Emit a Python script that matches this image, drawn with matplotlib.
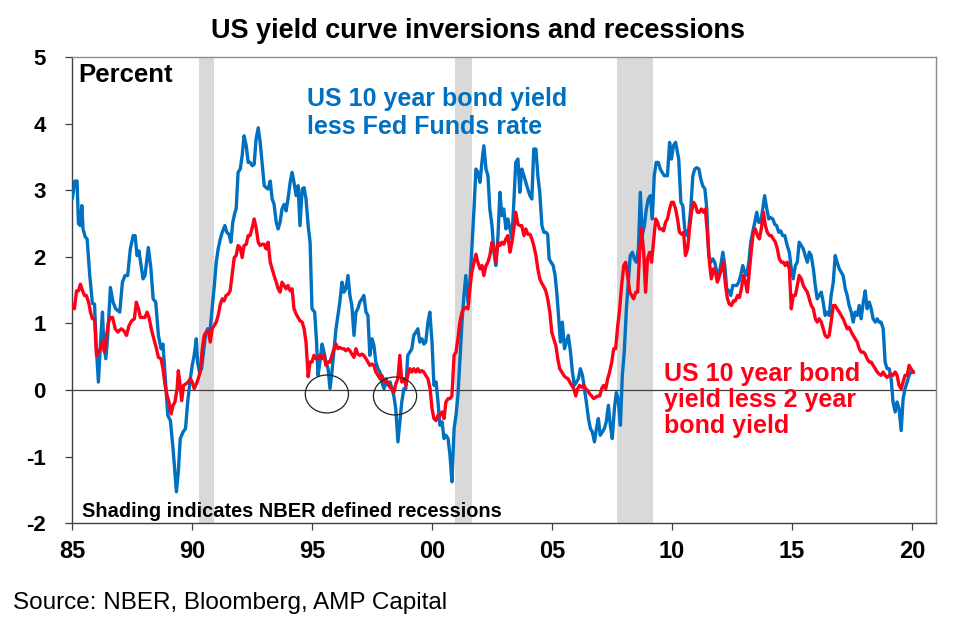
import matplotlib
matplotlib.use('Agg')
import matplotlib.pyplot as plt
from matplotlib.patches import Ellipse
import numpy as np

plt.rcParams['font.family'] = ['Liberation Sans', 'DejaVu Sans']

# US 10 year bond yield less Fed Funds rate (decimal year, percent)
blue_years = [
    1985.02, 1985.12, 1985.21, 1985.27, 1985.35, 1985.41, 1985.46, 1985.55, 1985.63, 1985.74,
    1985.85, 1985.94, 1986.00, 1986.10, 1986.19, 1986.27, 1986.32, 1986.41, 1986.49, 1986.60,
    1986.71, 1986.82, 1986.99, 1987.10, 1987.21, 1987.32, 1987.43, 1987.55, 1987.63, 1987.71,
    1987.79, 1987.88, 1987.96, 1988.04, 1988.18, 1988.29, 1988.38, 1988.49, 1988.60, 1988.71,
    1988.79, 1988.88, 1988.99, 1989.10, 1989.21, 1989.35, 1989.43, 1989.51, 1989.63, 1989.73,
    1989.82, 1989.93, 1990.01, 1990.09, 1990.18, 1990.23, 1990.31, 1990.40, 1990.48, 1990.56,
    1990.65, 1990.76, 1990.84, 1990.93, 1991.01, 1991.09, 1991.18, 1991.26, 1991.37, 1991.45,
    1991.54, 1991.62, 1991.70, 1991.79, 1991.84, 1991.92, 1992.01, 1992.09, 1992.17, 1992.26,
    1992.34, 1992.42, 1992.51, 1992.59, 1992.67, 1992.76, 1992.84, 1992.92, 1993.01, 1993.09,
    1993.17, 1993.26, 1993.34, 1993.42, 1993.51, 1993.59, 1993.67, 1993.75, 1993.84, 1993.92,
    1994.00, 1994.09, 1994.17, 1994.25, 1994.34, 1994.42, 1994.50, 1994.59, 1994.67, 1994.75,
    1994.84, 1994.92, 1995.00, 1995.11, 1995.19, 1995.25, 1995.33, 1995.42, 1995.50, 1995.58,
    1995.67, 1995.75, 1995.83, 1995.92, 1996.00, 1996.08, 1996.16, 1996.25, 1996.33, 1996.41,
    1996.50, 1996.58, 1996.66, 1996.75, 1996.83, 1996.91, 1996.99, 1997.08, 1997.16, 1997.25,
    1997.33, 1997.41, 1997.50, 1997.58, 1997.66, 1997.75, 1997.83, 1997.91, 1998.00, 1998.08,
    1998.16, 1998.25, 1998.33, 1998.41, 1998.49, 1998.58, 1998.66, 1998.74, 1998.83, 1998.91,
    1998.99, 1999.08, 1999.16, 1999.24, 1999.33, 1999.41, 1999.49, 1999.58, 1999.66, 1999.74,
    1999.83, 1999.91, 2000.00, 2000.08, 2000.17, 2000.25, 2000.33, 2000.42, 2000.50, 2000.58,
    2000.67, 2000.75, 2000.83, 2000.92, 2001.00, 2001.08, 2001.16, 2001.25, 2001.33, 2001.41,
    2001.50, 2001.58, 2001.66, 2001.75, 2001.83, 2001.91, 2002.00, 2002.08, 2002.16, 2002.25,
    2002.33, 2002.41, 2002.50, 2002.58, 2002.66, 2002.75, 2002.83, 2002.91, 2002.99, 2003.08,
    2003.16, 2003.25, 2003.33, 2003.41, 2003.49, 2003.58, 2003.66, 2003.74, 2003.83, 2003.91,
    2003.99, 2004.08, 2004.16, 2004.24, 2004.33, 2004.41, 2004.49, 2004.58, 2004.66, 2004.74,
    2004.82, 2004.88, 2004.96, 2005.05, 2005.13, 2005.21, 2005.29, 2005.35, 2005.43, 2005.52,
    2005.60, 2005.68, 2005.77, 2005.85, 2005.93, 2006.02, 2006.10, 2006.18, 2006.27, 2006.35,
    2006.43, 2006.52, 2006.60, 2006.68, 2006.77, 2006.85, 2006.93, 2007.01, 2007.10, 2007.18,
    2007.26, 2007.35, 2007.43, 2007.51, 2007.60, 2007.68, 2007.76, 2007.85, 2007.93, 2008.01,
    2008.10, 2008.18, 2008.26, 2008.35, 2008.43, 2008.51, 2008.60, 2008.68, 2008.76, 2008.85,
    2008.93, 2009.01, 2009.10, 2009.18, 2009.26, 2009.34, 2009.43, 2009.51, 2009.59, 2009.68,
    2009.81, 2009.90, 2009.98, 2010.06, 2010.15, 2010.23, 2010.28, 2010.37, 2010.45, 2010.53,
    2010.62, 2010.70, 2010.78, 2010.87, 2010.95, 2011.03, 2011.12, 2011.20, 2011.28, 2011.37,
    2011.45, 2011.53, 2011.62, 2011.70, 2011.78, 2011.87, 2011.95, 2012.03, 2012.12, 2012.20,
    2012.28, 2012.37, 2012.45, 2012.53, 2012.61, 2012.70, 2012.78, 2012.86, 2012.95, 2013.03,
    2013.11, 2013.20, 2013.28, 2013.36, 2013.45, 2013.53, 2013.61, 2013.70, 2013.78, 2013.86,
    2013.95, 2014.03, 2014.11, 2014.20, 2014.28, 2014.36, 2014.45, 2014.53, 2014.61, 2014.70,
    2014.80, 2014.89, 2014.97, 2015.05, 2015.14, 2015.22, 2015.30, 2015.39, 2015.47, 2015.55,
    2015.64, 2015.72, 2015.80, 2015.89, 2015.97, 2016.05, 2016.13, 2016.22, 2016.30, 2016.38,
    2016.47, 2016.55, 2016.63, 2016.72, 2016.80, 2016.88, 2016.97, 2017.05, 2017.13, 2017.22,
    2017.30, 2017.38, 2017.47, 2017.55, 2017.63, 2017.72, 2017.80, 2017.88, 2017.97, 2018.05,
    2018.13, 2018.22, 2018.30, 2018.38, 2018.47, 2018.55, 2018.63, 2018.71, 2018.80, 2018.88,
    2018.96, 2019.05, 2019.13, 2019.21, 2019.30, 2019.38, 2019.46, 2019.55, 2019.63, 2019.71,
    2019.80, 2019.88, 2019.96, 2020.05,
]
blue_values = [
    2.89, 3.14, 3.14, 2.50, 2.47, 2.77, 2.42, 2.30, 2.27, 1.72,
    1.30, 1.29, 0.72, 0.12, 0.72, 1.17, 0.72, 0.47, 0.82, 1.54,
    1.32, 1.22, 1.17, 1.62, 1.72, 1.72, 2.12, 2.32, 2.32, 2.02,
    2.09, 1.87, 1.67, 1.72, 2.14, 1.82, 1.37, 1.32, 0.82, 0.62,
    0.69, 0.22, -0.38, -0.46, -0.88, -1.53, -1.23, -0.73, -0.63, -0.58,
    -0.18, 0.17, 0.37, 0.52, 0.77, 0.42, 0.27, 0.32, 0.57, 0.82,
    0.92, 0.92, 1.22, 1.57, 1.92, 2.12, 2.27, 2.37, 2.47, 2.37,
    2.34, 2.22, 2.52, 2.67, 2.72, 3.27, 3.32, 3.52, 3.82, 3.67,
    3.42, 3.42, 3.37, 3.39, 3.77, 3.94, 3.72, 3.42, 3.07, 3.04,
    3.02, 3.14, 2.87, 2.79, 2.52, 2.42, 2.52, 2.72, 2.79, 2.69,
    2.87, 3.12, 3.27, 3.12, 2.92, 3.07, 2.47, 3.02, 3.04, 2.87,
    2.47, 2.22, 1.22, 1.17, 0.72, 0.22, 0.42, 0.69, 0.57, 0.42,
    0.32, 0.02, 0.27, 0.62, 0.92, 1.12, 1.32, 1.62, 1.47, 1.52,
    1.72, 1.42, 1.27, 0.82, 1.17, 1.22, 1.32, 1.37, 1.42, 1.17,
    1.12, 0.52, 0.77, 0.67, 0.42, 0.32, 0.27, 0.12, 0.02, 0.17,
    0.07, 0.12, 0.02, -0.09, -0.28, -0.78, -0.48, -0.18, 0.02, 0.02,
    0.52, 0.57, 0.62, 0.82, 0.87, 0.92, 0.72, 0.77, 0.69, 0.72,
    1.02, 1.17, 0.72, 0.07, 0.12, -0.18, -0.53, -0.48, -0.73, -0.68,
    -0.73, -0.98, -1.38, -0.58, -0.38, -0.09, 0.42, 1.02, 1.42, 1.72,
    1.32, 1.62, 2.12, 2.72, 3.32, 3.27, 3.12, 3.42, 3.67, 3.32,
    3.22, 2.72, 2.47, 2.07, 1.87, 2.32, 2.97, 2.62, 2.72, 2.42,
    2.57, 2.42, 2.27, 2.82, 3.42, 3.47, 2.97, 3.32, 3.22, 3.12,
    3.02, 2.92, 2.87, 3.62, 3.62, 3.22, 2.97, 2.47, 2.37, 2.37,
    2.34, 1.97, 1.92, 1.87, 1.72, 1.42, 1.02, 0.72, 1.02, 0.62,
    0.72, 0.82, 0.57, 0.27, 0.07, 0.12, 0.17, 0.32, 0.22, 0.02,
    -0.18, -0.43, -0.58, -0.63, -0.78, -0.58, -0.43, -0.68, -0.63, -0.58,
    -0.48, -0.23, -0.53, -0.73, -0.28, -0.04, -0.13, -0.53, 0.22, 0.57,
    1.22, 1.62, 2.02, 2.07, 1.97, 1.92, 2.12, 2.97, 2.32, 2.47,
    2.72, 2.87, 2.92, 2.57, 3.22, 3.42, 3.42, 3.32, 3.27, 3.22,
    3.22, 3.72, 3.47, 3.67, 3.72, 3.57, 3.47, 2.82, 2.77, 2.42,
    2.32, 2.42, 2.72, 3.22, 3.32, 3.34, 3.32, 3.17, 3.07, 3.02,
    2.72, 2.02, 1.92, 1.97, 1.92, 1.77, 1.72, 1.87, 2.07, 1.87,
    1.52, 1.49, 1.42, 1.57, 1.57, 1.57, 1.62, 1.72, 1.87, 1.77,
    1.72, 1.92, 2.22, 2.37, 2.52, 2.67, 2.52, 2.52, 2.72, 2.92,
    2.72, 2.57, 2.59, 2.57, 2.49, 2.47, 2.37, 2.39, 2.32, 2.32,
    2.17, 2.07, 1.82, 1.67, 1.87, 1.92, 2.22, 2.17, 2.12, 2.02,
    1.92, 2.07, 2.02, 1.82, 1.57, 1.37, 1.42, 1.47, 1.32, 1.12,
    1.17, 1.12, 1.42, 1.62, 2.02, 1.92, 1.82, 1.77, 1.72, 1.52,
    1.42, 1.27, 1.17, 1.02, 1.17, 1.12, 1.27, 1.07, 1.32, 1.49,
    1.22, 1.32, 1.22, 1.07, 1.02, 1.07, 1.02, 1.02, 0.92, 0.42,
    0.32, 0.32, 0.17, -0.18, -0.33, -0.18, -0.28, -0.61, -0.13, 0.02,
    0.12, 0.22, 0.27, 0.27,
]

# US 10 year bond yield less 2 year bond yield (decimal year, percent)
red_years = [
    1985.02, 1985.10, 1985.19, 1985.27, 1985.35, 1985.44, 1985.52, 1985.60, 1985.69, 1985.77,
    1985.85, 1985.94, 1986.02, 1986.10, 1986.19, 1986.27, 1986.35, 1986.44, 1986.52, 1986.60,
    1986.69, 1986.80, 1986.91, 1987.05, 1987.16, 1987.27, 1987.38, 1987.49, 1987.60, 1987.68,
    1987.77, 1987.85, 1987.96, 1988.04, 1988.13, 1988.21, 1988.32, 1988.43, 1988.52, 1988.60,
    1988.71, 1988.79, 1988.88, 1988.96, 1989.04, 1989.13, 1989.21, 1989.29, 1989.38, 1989.43,
    1989.49, 1989.57, 1989.65, 1989.74, 1989.84, 1989.93, 1990.01, 1990.09, 1990.18, 1990.26,
    1990.34, 1990.43, 1990.51, 1990.59, 1990.68, 1990.76, 1990.84, 1990.93, 1991.01, 1991.09,
    1991.18, 1991.26, 1991.34, 1991.42, 1991.51, 1991.59, 1991.67, 1991.76, 1991.84, 1991.92,
    1992.01, 1992.09, 1992.17, 1992.26, 1992.34, 1992.42, 1992.51, 1992.59, 1992.67, 1992.76,
    1992.84, 1992.92, 1993.01, 1993.09, 1993.17, 1993.26, 1993.34, 1993.42, 1993.51, 1993.59,
    1993.67, 1993.75, 1993.84, 1993.92, 1994.00, 1994.09, 1994.17, 1994.25, 1994.34, 1994.42,
    1994.50, 1994.59, 1994.67, 1994.75, 1994.84, 1994.92, 1995.00, 1995.08, 1995.17, 1995.25,
    1995.33, 1995.42, 1995.50, 1995.58, 1995.67, 1995.75, 1995.83, 1995.92, 1996.00, 1996.08,
    1996.16, 1996.25, 1996.33, 1996.41, 1996.50, 1996.58, 1996.66, 1996.75, 1996.83, 1996.91,
    1996.99, 1997.08, 1997.16, 1997.25, 1997.33, 1997.41, 1997.50, 1997.58, 1997.66, 1997.75,
    1997.83, 1997.91, 1998.00, 1998.08, 1998.16, 1998.25, 1998.33, 1998.41, 1998.49, 1998.58,
    1998.66, 1998.74, 1998.83, 1998.91, 1998.99, 1999.08, 1999.16, 1999.24, 1999.33, 1999.41,
    1999.49, 1999.58, 1999.66, 1999.74, 1999.83, 1999.92, 2000.00, 2000.08, 2000.17, 2000.25,
    2000.33, 2000.42, 2000.50, 2000.58, 2000.67, 2000.75, 2000.83, 2000.92, 2001.00, 2001.08,
    2001.16, 2001.25, 2001.33, 2001.41, 2001.50, 2001.58, 2001.66, 2001.75, 2001.83, 2001.91,
    2002.00, 2002.08, 2002.16, 2002.25, 2002.33, 2002.41, 2002.50, 2002.58, 2002.66, 2002.75,
    2002.83, 2002.91, 2002.99, 2003.08, 2003.16, 2003.25, 2003.33, 2003.41, 2003.49, 2003.58,
    2003.66, 2003.74, 2003.83, 2003.91, 2003.99, 2004.08, 2004.16, 2004.24, 2004.33, 2004.41,
    2004.49, 2004.58, 2004.66, 2004.74, 2004.82, 2004.91, 2004.99, 2005.07, 2005.16, 2005.24,
    2005.32, 2005.41, 2005.49, 2005.57, 2005.66, 2005.74, 2005.82, 2005.91, 2005.99, 2006.07,
    2006.15, 2006.24, 2006.32, 2006.40, 2006.49, 2006.57, 2006.65, 2006.74, 2006.82, 2006.90,
    2006.99, 2007.07, 2007.15, 2007.24, 2007.32, 2007.40, 2007.49, 2007.57, 2007.65, 2007.74,
    2007.82, 2007.90, 2007.99, 2008.07, 2008.15, 2008.24, 2008.32, 2008.40, 2008.49, 2008.57,
    2008.65, 2008.73, 2008.82, 2008.90, 2008.98, 2009.07, 2009.15, 2009.23, 2009.32, 2009.40,
    2009.48, 2009.57, 2009.65, 2009.73, 2009.81, 2009.90, 2009.98, 2010.06, 2010.15, 2010.23,
    2010.31, 2010.40, 2010.48, 2010.56, 2010.65, 2010.73, 2010.81, 2010.90, 2010.98, 2011.06,
    2011.14, 2011.23, 2011.31, 2011.39, 2011.48, 2011.56, 2011.64, 2011.73, 2011.81, 2011.89,
    2011.98, 2012.06, 2012.14, 2012.23, 2012.31, 2012.39, 2012.48, 2012.56, 2012.64, 2012.73,
    2012.81, 2012.89, 2012.98, 2013.06, 2013.14, 2013.23, 2013.31, 2013.39, 2013.47, 2013.56,
    2013.64, 2013.72, 2013.81, 2013.89, 2013.97, 2014.06, 2014.14, 2014.22, 2014.31, 2014.39,
    2014.47, 2014.56, 2014.64, 2014.72, 2014.80, 2014.89, 2014.97, 2015.05, 2015.14, 2015.22,
    2015.30, 2015.39, 2015.47, 2015.55, 2015.64, 2015.72, 2015.80, 2015.89, 2015.97, 2016.05,
    2016.13, 2016.22, 2016.30, 2016.38, 2016.47, 2016.55, 2016.63, 2016.72, 2016.80, 2016.88,
    2016.97, 2017.05, 2017.13, 2017.22, 2017.30, 2017.38, 2017.47, 2017.55, 2017.63, 2017.72,
    2017.80, 2017.88, 2017.97, 2018.05, 2018.13, 2018.22, 2018.30, 2018.38, 2018.47, 2018.55,
    2018.63, 2018.71, 2018.80, 2018.88, 2018.96, 2019.05, 2019.13, 2019.21, 2019.30, 2019.38,
    2019.46, 2019.55, 2019.63, 2019.71, 2019.80, 2019.88, 2019.96, 2020.05,
]
red_values = [
    1.27, 1.22, 1.49, 1.49, 1.59, 1.49, 1.42, 1.42, 1.32, 1.17,
    1.07, 1.07, 0.52, 0.57, 0.62, 0.72, 0.57, 0.82, 1.02, 1.09,
    1.09, 0.92, 0.87, 0.92, 0.89, 0.82, 0.97, 1.04, 1.07, 1.32,
    1.22, 1.09, 1.09, 1.09, 1.17, 1.09, 0.89, 0.74, 0.62, 0.49,
    0.47, 0.32, 0.07, -0.08, -0.18, -0.36, -0.23, -0.18, 0.02, 0.29,
    0.12, -0.16, 0.07, 0.09, 0.12, 0.17, 0.12, 0.02, 0.09, 0.17,
    0.27, 0.62, 0.82, 0.87, 0.89, 0.72, 0.92, 0.97, 1.02, 1.12,
    1.29, 1.37, 1.34, 1.42, 1.44, 1.49, 1.72, 1.99, 2.02, 2.17,
    2.14, 1.99, 2.17, 2.19, 2.32, 2.32, 2.44, 2.57, 2.44, 2.22,
    2.17, 2.19, 2.19, 2.12, 2.22, 1.92, 1.82, 1.72, 1.62, 1.52,
    1.47, 1.62, 1.57, 1.52, 1.57, 1.49, 1.52, 1.22, 1.14, 1.09,
    1.04, 1.02, 0.92, 0.72, 0.20, 0.42, 0.42, 0.52, 0.47, 0.47,
    0.52, 0.47, 0.52, 0.37, 0.42, 0.42, 0.52, 0.62, 0.69, 0.62,
    0.64, 0.62, 0.62, 0.59, 0.62, 0.59, 0.54, 0.49, 0.62, 0.54,
    0.52, 0.54, 0.52, 0.47, 0.42, 0.37, 0.39, 0.37, 0.27, 0.22,
    0.17, 0.22, 0.12, 0.12, 0.12, 0.04, 0.02, -0.04, 0.09, 0.17,
    0.52, 0.12, 0.17, 0.07, 0.22, 0.32, 0.27, 0.32, 0.27, 0.32,
    0.27, 0.29, 0.27, 0.22, 0.17, 0.02, -0.28, -0.43, -0.46, -0.38,
    -0.38, -0.33, -0.43, -0.18, -0.13, -0.13, -0.09, 0.52, 0.57, 0.77,
    1.02, 1.17, 1.22, 1.24, 1.22, 1.52, 1.77, 1.92, 2.04, 1.92,
    1.82, 1.87, 1.72, 1.87, 1.92, 2.02, 2.22, 2.12, 1.92, 2.22,
    2.17, 2.22, 2.19, 2.27, 2.32, 2.07, 2.22, 2.42, 2.67, 2.49,
    2.47, 2.47, 2.32, 2.42, 2.34, 2.34, 2.27, 2.17, 2.02, 1.82,
    1.67, 1.60, 1.55, 1.49, 1.37, 1.17, 0.87, 0.77, 0.67, 0.47,
    0.32, 0.27, 0.22, 0.19, 0.17, 0.12, 0.07, 0.02, -0.09, 0.02,
    0.07, 0.04, 0.07, 0.02, -0.01, -0.06, -0.09, -0.13, -0.11, -0.09,
    -0.09, 0.02, 0.07, 0.02, 0.17, 0.27, 0.42, 0.62, 0.62, 0.97,
    1.22, 1.57, 1.87, 1.92, 1.72, 1.47, 1.42, 1.37, 1.47, 1.47,
    2.07, 2.42, 2.07, 1.47, 1.97, 2.07, 1.92, 2.22, 2.57, 2.52,
    2.42, 2.42, 2.39, 2.52, 2.57, 2.72, 2.82, 2.82, 2.72, 2.57,
    2.37, 2.34, 2.37, 2.02, 2.12, 2.42, 2.67, 2.82, 2.77, 2.67,
    2.67, 2.72, 2.67, 2.72, 2.32, 1.92, 1.67, 1.82, 1.77, 1.62,
    1.72, 1.82, 1.92, 1.57, 1.37, 1.29, 1.27, 1.34, 1.34, 1.42,
    1.39, 1.52, 1.72, 1.62, 1.47, 1.82, 2.12, 2.37, 2.42, 2.32,
    2.27, 2.42, 2.67, 2.47, 2.37, 2.32, 2.32, 2.27, 2.22, 2.12,
    1.97, 1.92, 1.92, 1.87, 1.92, 1.82, 1.22, 1.42, 1.42, 1.57,
    1.72, 1.67, 1.57, 1.52, 1.47, 1.37, 1.27, 1.22, 1.07, 1.02,
    1.07, 1.02, 0.92, 0.82, 0.79, 0.82, 1.02, 1.27, 1.27, 1.22,
    1.17, 1.12, 1.07, 0.99, 0.92, 0.94, 0.87, 0.82, 0.77, 0.72,
    0.62, 0.57, 0.57, 0.54, 0.47, 0.42, 0.42, 0.37, 0.32, 0.27,
    0.24, 0.22, 0.27, 0.22, 0.19, 0.22, 0.24, 0.22, 0.27, 0.22,
    0.07, 0.02, 0.12, 0.22, 0.22, 0.37, 0.32, 0.27,
]

# NBER recessions as drawn on the chart (start, end)
recession_starts = [1990.30, 2000.95, 2007.70]
recession_ends = [1990.90, 2001.65, 2009.20]

x_ticks = [1985, 1990, 1995, 2000, 2005, 2010, 2015, 2020]
x_labels = ['85', '90', '95', '00', '05', '10', '15', '20']
y_ticks = [-2, -1, 0, 1, 2, 3, 4, 5]

# inversions circled on the chart (centre year, centre value)
circle_x = [1995.62, 1998.46]
circle_y = [-0.06, -0.09]

blue = '#0070C0'
red = '#FF0019'

fig = plt.figure(figsize=(9.6, 6.22), dpi=100)
ax = fig.add_axes([0.075, 0.159, 0.9, 0.749])

for s, e in zip(recession_starts, recession_ends):
    ax.axvspan(s, e, color='#d9d9d9', lw=0, zorder=0)

ax.axhline(0, color='#404040', lw=0.9, zorder=1)
ax.plot(blue_years, blue_values, color=blue, lw=2.4, zorder=3, solid_joinstyle='round')
ax.plot(red_years, red_values, color=red, lw=2.4, zorder=4, solid_joinstyle='round')

for cx, cy in zip(circle_x, circle_y):
    ax.add_patch(Ellipse((cx, cy), 1.8, 0.57, fill=False, ec='#222222', lw=0.9, zorder=5))

ax.set_xlim(1985, 2021)
ax.set_ylim(-2, 5)
ax.set_xticks(x_ticks)
ax.set_xticklabels(x_labels, fontsize=17, fontweight='bold')
ax.set_yticks(y_ticks)
ax.set_yticklabels([str(v) for v in y_ticks], fontsize=16, fontweight='bold')
ax.tick_params(axis='both', direction='out', length=5, width=0.9, color='#404040')
ax.tick_params(axis='x', pad=7)
ax.tick_params(axis='y', pad=14)

for side in ['left', 'bottom']:
    ax.spines[side].set_color('#404040')
    ax.spines[side].set_linewidth(1.0)
for side in ['top', 'right']:
    ax.spines[side].set_color('#8c8c8c')
    ax.spines[side].set_linewidth(1.0)

ax.text(0.007, 0.961, 'Percent', transform=ax.transAxes, fontsize=18.5,
        fontweight='bold', va='center', ha='left')
ax.text(0.272, 0.937, 'US 10 year bond yield\nless Fed Funds rate', transform=ax.transAxes,
        fontsize=18, fontweight='bold', color=blue, va='top', ha='left', linespacing=1.22)
ax.text(0.685, 0.345, 'US 10 year bond\nyield less 2 year\nbond yield', transform=ax.transAxes,
        fontsize=18, fontweight='bold', color=red, va='top', ha='left', linespacing=1.1)
ax.text(0.012, 0.024, 'Shading indicates NBER defined recessions', transform=ax.transAxes,
        fontsize=14.4, fontweight='bold', va='center', ha='left')

fig.text(0.498, 0.950, 'US yield curve inversions and recessions', fontsize=19.5,
         fontweight='bold', ha='center', va='center')
fig.text(0.014, 0.031, 'Source: NBER, Bloomberg, AMP Capital', fontsize=17.5,
         ha='left', va='center')

fig.savefig('out.png', dpi=100)
